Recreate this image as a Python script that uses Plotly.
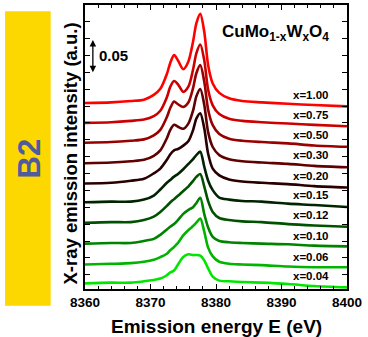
import plotly.graph_objects as go

# ---------------- data ----------------
energy = [8360, 8364, 8367, 8369, 8370.5, 8371.5, 8372.5, 8373, 8373.6, 8374.2,
          8375, 8375.8, 8376.5, 8377, 8377.6, 8378.2, 8378.8, 8379.5, 8380.5,
          8382, 8384, 8387, 8391, 8395, 8400]

labels = ["x=1.00", "x=0.75", "x=0.50", "x=0.30", "x=0.20",
          "x=0.15", "x=0.12", "x=0.10", "x=0.06", "x=0.04"]

offsets = [0.2754, 0.2460, 0.2166, 0.1863, 0.1563, 0.1284, 0.0981, 0.0672, 0.0363, 0.0084]

spec_100 = [0, 0.001, 0.003, 0.005, 0.012, 0.021, 0.043, 0.059, 0.071, 0.063, 0.050, 0.062, 0.091,
            0.118, 0.132, 0.106, 0.056, 0.029, 0.015, 0.007, 0.003, 0.001, -0.001, -0.003, -0.005]
spec_075 = [0, 0.001, 0.003, 0.005, 0.010, 0.018, 0.038, 0.053, 0.062, 0.057, 0.046, 0.054, 0.079,
            0.103, 0.116, 0.093, 0.049, 0.026, 0.013, 0.006, 0.003, 0.001, -0.001, -0.003, -0.005]
spec_050 = [0, 0.001, 0.003, 0.005, 0.011, 0.019, 0.038, 0.051, 0.061, 0.057, 0.053, 0.060, 0.081,
            0.103, 0.115, 0.091, 0.049, 0.026, 0.013, 0.006, 0.003, 0.001, -0.001, -0.004, -0.006]
spec_030 = [0, 0.001, 0.003, 0.005, 0.011, 0.019, 0.037, 0.049, 0.057, 0.054, 0.051, 0.059, 0.078,
            0.099, 0.110, 0.087, 0.046, 0.024, 0.012, 0.006, 0.003, 0.001, -0.001, -0.004, -0.006]
spec_020 = [0, 0.001, 0.004, 0.007, 0.015, 0.022, 0.035, 0.043, 0.049, 0.051, 0.056, 0.063, 0.079,
            0.096, 0.104, 0.082, 0.044, 0.022, 0.012, 0.006, 0.003, 0.001, -0.001, -0.004, -0.006]
spec_015 = [0, 0.001, 0.001, 0.004, 0.010, 0.019, 0.029, 0.033, 0.038, 0.042, 0.049, 0.057, 0.064,
            0.070, 0.075, 0.053, 0.032, 0.018, 0.007, 0.004, 0.002, 0.001, -0.002, -0.004, -0.007]
spec_012 = [0, 0.001, 0.001, 0.004, 0.009, 0.016, 0.025, 0.030, 0.035, 0.040, 0.047, 0.054, 0.062,
            0.068, 0.072, 0.054, 0.032, 0.016, 0.007, 0.004, 0.002, 0.001, -0.002, -0.004, -0.006]
spec_010 = [0, 0.001, 0.001, 0.004, 0.007, 0.013, 0.021, 0.025, 0.029, 0.035, 0.044, 0.050, 0.054,
            0.060, 0.068, 0.044, 0.024, 0.010, 0.004, 0.002, 0.001, 0.000, -0.001, -0.003, -0.004]
spec_006 = [0, 0.001, 0.002, 0.004, 0.007, 0.011, 0.016, 0.021, 0.026, 0.032, 0.043, 0.051, 0.057,
            0.062, 0.068, 0.049, 0.025, 0.012, 0.004, 0.001, 0.000, -0.001, -0.003, -0.004, -0.004]
spec_004 = [0, 0.001, 0.001, 0.003, 0.005, 0.007, 0.012, 0.016, 0.019, 0.028, 0.039, 0.043, 0.042,
            0.042, 0.041, 0.034, 0.022, 0.010, 0.004, 0.003, 0.002, 0.001, -0.001, -0.004, -0.006]

spectra = [spec_100, spec_075, spec_050, spec_030, spec_020,
           spec_015, spec_012, spec_010, spec_006, spec_004]

colors = ["#FF0000", "#CC0000", "#990000", "#600000", "#280000",
          "#002400", "#005200", "#008400", "#00B400", "#00E600"]

x_ticks = [8360, 8370, 8380, 8390, 8400]
scale_bar = 0.05

FONT = "Liberation Sans, Arial, sans-serif"

fig = go.Figure()
for lab, spec, off, col in zip(labels, spectra, offsets, colors):
    fig.add_trace(go.Scatter(
        x=energy, y=[v + off for v in spec], mode="lines", name=lab,
        line=dict(color=col, width=2.6, shape="spline", smoothing=0.8),
        showlegend=False, hoverinfo="skip"))

annotations = []
for lab, off in zip(labels, offsets):
    annotations.append(dict(x=8397.6, y=off + 0.0115, xref="x", yref="y", text="<b>%s</b>" % lab,
                            showarrow=False, xanchor="right", yanchor="middle",
                            font=dict(family=FONT, size=11.5, color="black")))

# scale bar
annotations.append(dict(x=8361.2, y=0.371 - scale_bar, ax=8361.2, ay=0.371, xref="x", yref="y",
                        axref="x", ayref="y", text="", showarrow=True, arrowhead=2, startarrowhead=2,
                        arrowside="end+start", arrowsize=1, arrowwidth=1.3, arrowcolor="black"))
annotations.append(dict(x=8361.8, y=0.371 - scale_bar / 2, xref="x", yref="y", text="<b>0.05</b>",
                        showarrow=False, xanchor="left", yanchor="middle",
                        font=dict(family=FONT, size=15, color="black")))
# formula
annotations.append(dict(x=8380.6, y=0.902, xref="x", yref="paper",
                        text="<b>CuMo<sub>1-x</sub>W<sub>x</sub>O<sub>4</sub></b>",
                        showarrow=False, xanchor="left", yanchor="middle",
                        font=dict(family=FONT, size=17, color="black")))
# axis titles
annotations.append(dict(x=0.5, y=-0.132, xref="paper", yref="paper",
                        text="<b>Emission energy E (eV)</b>", showarrow=False,
                        xanchor="center", yanchor="middle",
                        font=dict(family=FONT, size=19, color="black")))
annotations.append(dict(x=-0.0534, y=0.477, xref="paper", yref="paper",
                        text="<b>X-ray emission intensity (a.u.)</b>", showarrow=False, textangle=-90,
                        xanchor="center", yanchor="middle",
                        font=dict(family=FONT, size=18.5, color="black")))
# B2 tag
annotations.append(dict(x=-0.212, y=0.4615, xref="paper", yref="paper",
                        text="<b>B2</b>", showarrow=False, textangle=-90,
                        xanchor="center", yanchor="middle",
                        font=dict(family=FONT, size=31, color="#4F5B9E")))

fig.update_layout(
    width=368, height=337,
    margin=dict(l=85, r=21, t=3, b=48),
    paper_bgcolor="white", plot_bgcolor="white",
    annotations=annotations,
    shapes=[dict(type="rect", xref="paper", yref="paper", x0=-0.305, x1=-0.131, y0=-0.0594, y1=0.978,
                 fillcolor="#FCD700", line=dict(width=0), layer="below")],
    xaxis=dict(range=[8360, 8400], tickvals=x_ticks, ticktext=[str(t) for t in x_ticks],
               ticks="inside", ticklen=5, tickwidth=1.3, tickcolor="black",
               showline=True, linewidth=1.5, linecolor="black", mirror="ticks",
               showgrid=False, zeroline=False,
               minor=dict(tick0=8360, dtick=2, ticks="inside", ticklen=3, tickcolor="black", tickwidth=1),
               tickfont=dict(family=FONT, size=13.5, color="black", weight="bold")),
    yaxis=dict(range=[0, 0.4206], tick0=0.021, dtick=0.025, showticklabels=False,
               ticks="inside", ticklen=5, tickwidth=1.3, tickcolor="black",
               showline=True, linewidth=1.5, linecolor="black", mirror="ticks",
               showgrid=False, zeroline=False),
)

fig.write_html("out.html", config={"displayModeBar": False},
               post_script="document.body.style.margin='0';document.body.style.overflow='hidden';")
